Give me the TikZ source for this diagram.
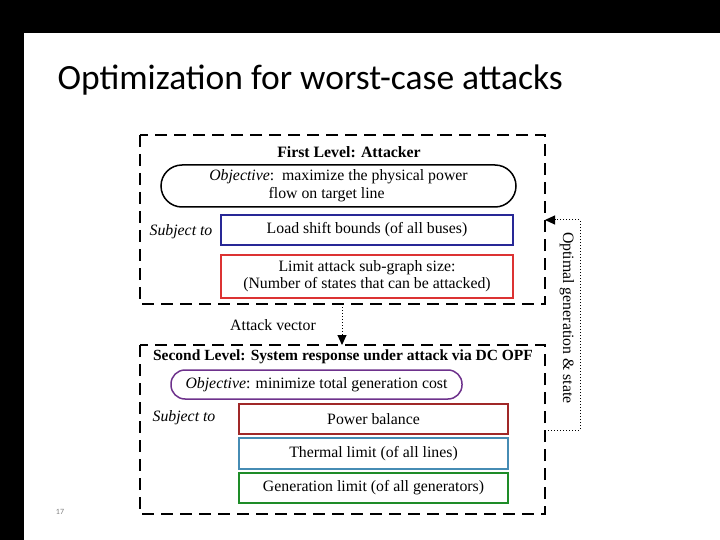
\documentclass[tikz,border=0pt]{standalone}
\usepackage{fontspec}
\setmainfont{Liberation Serif}
\newfontfamily\titlefont{Carlito}
\usetikzlibrary{arrows.meta}
\definecolor{ybar}{RGB}{244,190,30}
\definecolor{bblue}{RGB}{40,40,150}
\definecolor{bred}{RGB}{220,50,50}
\definecolor{dred}{RGB}{160,40,40}
\definecolor{teal2}{RGB}{70,140,180}
\definecolor{gr}{RGB}{30,140,40}
\definecolor{purp}{RGB}{110,50,140}
\begin{document}
\begin{tikzpicture}[x=1pt,y=-1pt,
 dbox/.style={draw,line width=1.8pt,dash pattern=on 12pt off 7pt},
 cbox/.style={draw,line width=1.5pt,minimum width=292pt,minimum height=30pt,inner sep=0pt,font=\fontsize{15.8}{17}\selectfont,align=center},
 lbl/.style={font=\fontsize{15.8}{17}\selectfont},
 dot/.style={line width=1pt,dotted,-{Triangle[length=10pt,width=9pt]}}]
\useasboundingbox (0,0) rectangle (720,540);
\fill[white] (0,0) rectangle (720,540);
\fill[black] (0,0) rectangle (720,28);
\fill[ybar] (0,28) rectangle (720,33);
\fill[black] (0,33) rectangle (24,540);
\node[anchor=west,font=\titlefont\fontsize{35.5}{37}\selectfont] (title) at (54,80) {Optimization for worst-case attacks};
\node[font=\titlefont\fontsize{8}{9}\selectfont,text=gray] (pg) at (60,512) {17};
% first level
\draw[dbox] (140,135) rectangle (545,304);
\node[font=\fontsize{15.8}{17}\selectfont\bfseries] (t1) at (349,152) {First Level: Attacker};
\node[draw,line width=1.5pt,rounded corners=21pt,minimum width=355pt,minimum height=42pt,inner sep=0pt,align=center,font=\fontsize{15.8}{18}\selectfont] (obj1) at (338.5,186) {\textit{Objective}:\ \ maximize the physical power\\\hspace*{-1.5em}flow on target line};
\node[font=\fontsize{15.8}{17}\selectfont\itshape] (s1) at (181,232) {Subject to};
\node[cbox,draw=bblue] (lsb) at (367,230) {Load shift bounds (of all buses)};
\node[cbox,draw=bred,minimum height=43pt] (lim) at (367,276.5) {Limit attack sub-graph size:\\(Number of states that can be attacked)};
% second level
\draw[dbox] (140,345) rectangle (545,514);
\node[font=\fontsize{15.5}{17}\selectfont\bfseries] (t2) at (343,357) {Second Level: System response under attack via DC OPF};
\node[draw=purp,line width=1.5pt,rounded corners=14pt,minimum width=291pt,minimum height=29pt,inner sep=0pt,font=\fontsize{15.8}{17}\selectfont] (obj2) at (316.5,384.5) {\textit{Objective}: minimize total generation cost};
\node[font=\fontsize{15.8}{17}\selectfont\itshape] (s2) at (184,418) {Subject to};
\node[cbox,draw=dred,minimum width=269pt] (pb) at (373.5,419) {Power balance};
\node[cbox,draw=teal2,minimum width=269pt,minimum height=31pt] (th) at (373.5,453.5) {Thermal limit (of all lines)};
\node[cbox,draw=gr,minimum width=269pt] (gl) at (373.5,488) {Generation limit (of all generators)};
% connectors
\coordinate (a1) at (342,304);
\coordinate (a2) at (342,345);
\draw[dot] (a1) -- (a2);
\node[lbl] (av) at (273,325) {Attack vector};
\coordinate (r1) at (545,430);
\coordinate (r2) at (545,220);
\draw[dot] (r1) -- (580,430) -- (580,220) -- (r2);
\node[lbl,rotate=-90] (og) at (567,318) {Optimal generation \& state};
\end{tikzpicture}
\end{document}
